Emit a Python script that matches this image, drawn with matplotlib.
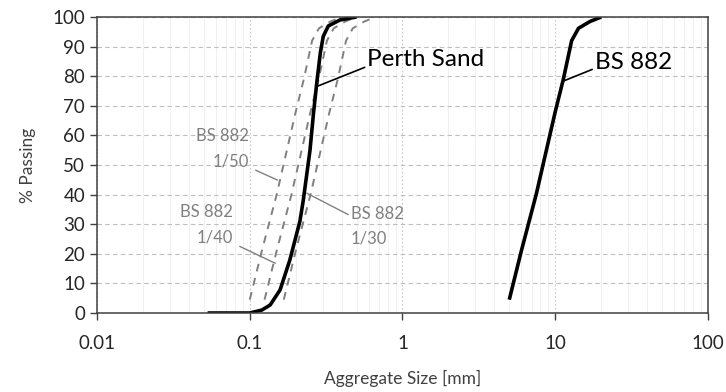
import matplotlib
matplotlib.use("Agg")
import matplotlib.pyplot as plt
from matplotlib.ticker import FixedLocator, LogLocator, NullFormatter

plt.rcParams['font.family'] = ['Lato', 'DejaVu Sans']

# grading curves
perth_size = [0.053, 0.1, 0.12, 0.136, 0.158, 0.183, 0.213, 0.224, 0.248, 0.262,
              0.275, 0.29, 0.303, 0.327, 0.39, 0.45, 0.5]
perth_pass = [0, 0, 1.0, 2.7, 7.8, 17.9, 31, 38, 55, 68,
              78, 88, 93.5, 97, 99, 99.6, 100]

bs882_size = [5, 6, 7.5, 10, 11.3, 12.8, 14.2, 16.9, 20]
bs882_pass = [4.5, 21, 40, 68, 79, 92, 96.2, 98.5, 100]

bs50_size = [0.1, 0.12, 0.15, 0.2, 0.226, 0.256, 0.284, 0.338, 0.4]
bs40_size = [0.125, 0.15, 0.1875, 0.25, 0.2825, 0.32, 0.355, 0.4225, 0.5]
bs30_size = [0.167, 0.2, 0.25, 0.333, 0.377, 0.427, 0.473, 0.563, 0.667]
bs_scaled_pass = [4.5, 21, 40, 68, 79, 92, 96.2, 98.5, 100]

xticks = [0.01, 0.1, 1, 10, 100]
xtick_labels = ["0.01", "0.1", "1", "10", "100"]
yticks = list(range(0, 101, 10))

dark = "#404040"
grey = "#808080"

fig = plt.figure(figsize=(7.26, 3.92), dpi=100)
ax = fig.add_axes([0.1336, 0.2015, 0.8416, 0.7551])

# grid
ax.set_xscale("log")
ax.xaxis.set_minor_locator(LogLocator(base=10, subs=range(2, 10)))
ax.xaxis.set_minor_formatter(NullFormatter())
ax.grid(True, which="major", axis="y", color="#bdbdbd", linestyle=(0, (4, 3)), linewidth=0.8)
ax.grid(True, which="major", axis="x", color="#c8c8c8", linestyle=(0, (1.5, 2)), linewidth=0.8)
ax.grid(True, which="minor", axis="x", color="#eeeeee", linestyle="-", linewidth=0.6)

dash = (0, (4, 3.5))
ax.plot(bs50_size, bs_scaled_pass, color=grey, linestyle=dash, linewidth=1.4)
ax.plot(bs40_size, bs_scaled_pass, color=grey, linestyle=dash, linewidth=1.4)
ax.plot(bs30_size, bs_scaled_pass, color=grey, linestyle=dash, linewidth=1.4)
ax.plot(perth_size, perth_pass, color="black", linewidth=2.6, solid_capstyle="butt")
ax.plot(bs882_size, bs882_pass, color="black", linewidth=2.6, solid_capstyle="butt")

ax.set_xlim(0.01, 100)
ax.set_ylim(0, 100)
ax.xaxis.set_major_locator(FixedLocator(xticks))
ax.set_xticklabels(xtick_labels)
ax.set_yticks(yticks)
ax.tick_params(axis="both", which="major", direction="out", length=5, width=1,
               color=dark, labelsize=13.5, labelcolor="#262626")
ax.tick_params(axis="x", which="minor", length=0)
ax.tick_params(axis="x", pad=11)
for s in ax.spines.values():
    s.set_color(dark)
    s.set_linewidth(1.1)

ax.set_xlabel("Aggregate Size [mm]", fontsize=12.5, color=dark, labelpad=13)
ax.set_ylabel("% Passing", fontsize=12.5, color=dark, labelpad=12)

# annotations
ax.annotate("Perth Sand", xy=(0.28, 76.7), xytext=(0.59, 85.5),
            fontsize=17.5, color="black", va="center", ha="left",
            arrowprops=dict(arrowstyle="-", color="black", lw=1.2, shrinkA=0, shrinkB=0,
                            relpos=(0, 0.2)))
ax.annotate("BS 882", xy=(11.1, 78.2), xytext=(18.2, 84.8),
            fontsize=17.5, color="black", va="center", ha="left",
            arrowprops=dict(arrowstyle="-", color="black", lw=1.2, shrinkA=0, shrinkB=0,
                            relpos=(0, 0.2)))
ax.annotate("BS 882\n1/50", xy=(0.152, 44.9), xytext=(0.099, 55.5),
            fontsize=12, color=grey, va="center", ha="right", multialignment="right",
            linespacing=1.7,
            arrowprops=dict(arrowstyle="-", color=grey, lw=1.0, shrinkA=3, shrinkB=0,
                            relpos=(1.0, 0.05)))
ax.annotate("BS 882\n1/40", xy=(0.147, 16.8), xytext=(0.078, 29.8),
            fontsize=12, color=grey, va="center", ha="right", multialignment="right",
            linespacing=1.7,
            arrowprops=dict(arrowstyle="-", color=grey, lw=1.0, shrinkA=3, shrinkB=0,
                            relpos=(1.0, 0.05)))
ax.annotate("BS 882\n1/30", xy=(0.236, 40.5), xytext=(0.46, 29.3),
            fontsize=12, color=grey, va="center", ha="left", multialignment="left",
            linespacing=1.7,
            arrowprops=dict(arrowstyle="-", color=grey, lw=1.0, shrinkA=0, shrinkB=0,
                            relpos=(0.0, 0.75)))

fig.savefig("out.png", dpi=100)
